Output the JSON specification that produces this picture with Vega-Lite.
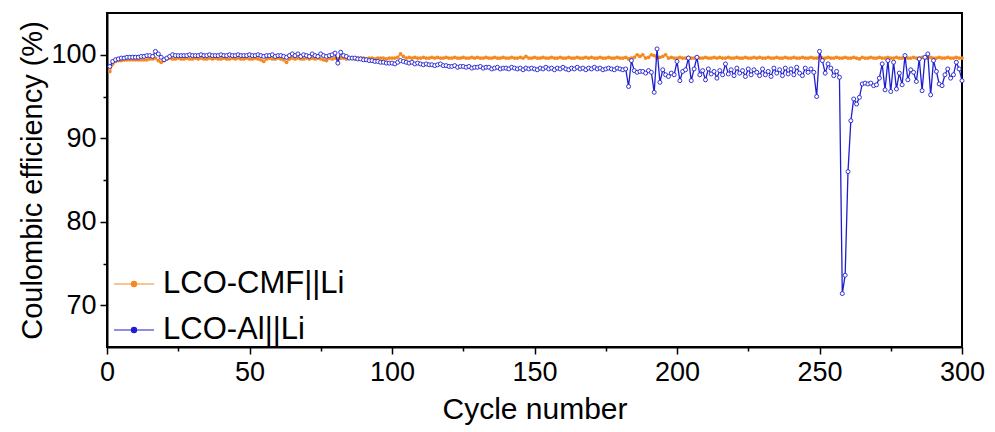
{
  "$schema": "https://vega.github.io/schema/vega-lite/v6.json",
  "width": 855,
  "height": 334,
  "autosize": {"type": "none"},
  "padding": {"left": 107, "top": 13, "right": 33, "bottom": 85},
  "background": "white",
  "config": {
    "view": {"stroke": "black", "strokeWidth": 2},
    "font": "Liberation Sans",
    "axis": {"grid": false, "domainColor": "black", "domainWidth": 2, "tickColor": "black", "tickWidth": 1.5, "labelColor": "black", "titleColor": "black", "titleFontWeight": "normal", "labelFont": "Liberation Sans", "titleFont": "Liberation Sans"}
  },
  "datasets": {
    "cmf": [
{"c":1,"v":98.0},{"c":2,"v":98.9},{"c":3,"v":99.2},{"c":4,"v":99.3},{"c":5,"v":99.3},{"c":6,"v":99.4},{"c":7,"v":99.4},{"c":8,"v":99.4},{"c":9,"v":99.4},{"c":10,"v":99.4},
{"c":11,"v":99.4},{"c":12,"v":99.4},{"c":13,"v":99.4},{"c":14,"v":99.4},{"c":15,"v":99.5},{"c":16,"v":99.5},{"c":17,"v":99.6},{"c":18,"v":99.3},{"c":19,"v":99.1},{"c":20,"v":99.3},
{"c":21,"v":99.5},{"c":22,"v":99.6},{"c":23,"v":99.5},{"c":24,"v":99.5},{"c":25,"v":99.6},{"c":26,"v":99.5},{"c":27,"v":99.5},{"c":28,"v":99.6},{"c":29,"v":99.5},{"c":30,"v":99.5},
{"c":31,"v":99.6},{"c":32,"v":99.5},{"c":33,"v":99.6},{"c":34,"v":99.5},{"c":35,"v":99.5},{"c":36,"v":99.6},{"c":37,"v":99.5},{"c":38,"v":99.6},{"c":39,"v":99.5},{"c":40,"v":99.5},
{"c":41,"v":99.6},{"c":42,"v":99.5},{"c":43,"v":99.5},{"c":44,"v":99.6},{"c":45,"v":99.5},{"c":46,"v":99.6},{"c":47,"v":99.5},{"c":48,"v":99.5},{"c":49,"v":99.6},{"c":50,"v":99.5},
{"c":51,"v":99.5},{"c":52,"v":99.6},{"c":53,"v":99.5},{"c":54,"v":99.4},{"c":55,"v":99.2},{"c":56,"v":99.5},{"c":57,"v":99.6},{"c":58,"v":99.5},{"c":59,"v":99.5},{"c":60,"v":99.6},
{"c":61,"v":99.5},{"c":62,"v":99.4},{"c":63,"v":99.1},{"c":64,"v":99.5},{"c":65,"v":99.6},{"c":66,"v":99.5},{"c":67,"v":99.6},{"c":68,"v":99.5},{"c":69,"v":99.5},{"c":70,"v":99.6},
{"c":71,"v":99.5},{"c":72,"v":99.6},{"c":73,"v":99.5},{"c":74,"v":99.6},{"c":75,"v":99.5},{"c":76,"v":99.4},{"c":77,"v":99.3},{"c":78,"v":99.6},{"c":79,"v":99.5},{"c":80,"v":99.6},
{"c":81,"v":99.5},{"c":82,"v":99.6},{"c":83,"v":99.6},{"c":84,"v":99.5},{"c":85,"v":99.6},{"c":86,"v":99.6},{"c":87,"v":99.5},{"c":88,"v":99.6},{"c":89,"v":99.6},{"c":90,"v":99.6},
{"c":91,"v":99.5},{"c":92,"v":99.6},{"c":93,"v":99.6},{"c":94,"v":99.5},{"c":95,"v":99.6},{"c":96,"v":99.6},{"c":97,"v":99.6},{"c":98,"v":99.5},{"c":99,"v":99.6},{"c":100,"v":99.6},
{"c":101,"v":99.6},{"c":102,"v":99.7},{"c":103,"v":100.1},{"c":104,"v":99.8},{"c":105,"v":99.6},{"c":106,"v":99.7},{"c":107,"v":99.6},{"c":108,"v":99.7},{"c":109,"v":99.6},{"c":110,"v":99.6},
{"c":111,"v":99.7},{"c":112,"v":99.6},{"c":113,"v":99.6},{"c":114,"v":99.7},{"c":115,"v":99.6},{"c":116,"v":99.7},{"c":117,"v":99.6},{"c":118,"v":99.6},{"c":119,"v":99.7},{"c":120,"v":99.6},
{"c":121,"v":99.6},{"c":122,"v":99.7},{"c":123,"v":99.6},{"c":124,"v":99.6},{"c":125,"v":99.7},{"c":126,"v":99.6},{"c":127,"v":99.6},{"c":128,"v":99.7},{"c":129,"v":99.6},{"c":130,"v":99.7},
{"c":131,"v":99.6},{"c":132,"v":99.6},{"c":133,"v":99.7},{"c":134,"v":99.6},{"c":135,"v":99.6},{"c":136,"v":99.7},{"c":137,"v":99.6},{"c":138,"v":99.6},{"c":139,"v":99.7},{"c":140,"v":99.6},
{"c":141,"v":99.6},{"c":142,"v":99.7},{"c":143,"v":99.6},{"c":144,"v":99.6},{"c":145,"v":99.7},{"c":146,"v":99.6},{"c":147,"v":99.8},{"c":148,"v":99.6},{"c":149,"v":99.6},{"c":150,"v":99.7},
{"c":151,"v":99.6},{"c":152,"v":99.6},{"c":153,"v":99.7},{"c":154,"v":99.6},{"c":155,"v":99.6},{"c":156,"v":99.7},{"c":157,"v":99.6},{"c":158,"v":99.6},{"c":159,"v":99.7},{"c":160,"v":99.6},
{"c":161,"v":99.6},{"c":162,"v":99.7},{"c":163,"v":99.6},{"c":164,"v":99.6},{"c":165,"v":99.7},{"c":166,"v":99.6},{"c":167,"v":99.6},{"c":168,"v":99.7},{"c":169,"v":99.6},{"c":170,"v":99.7},
{"c":171,"v":99.6},{"c":172,"v":99.6},{"c":173,"v":99.7},{"c":174,"v":99.6},{"c":175,"v":99.6},{"c":176,"v":99.7},{"c":177,"v":99.6},{"c":178,"v":99.6},{"c":179,"v":99.7},{"c":180,"v":99.6},
{"c":181,"v":99.6},{"c":182,"v":99.7},{"c":183,"v":99.5},{"c":184,"v":99.6},{"c":185,"v":99.7},{"c":186,"v":100.0},{"c":187,"v":99.8},{"c":188,"v":100.0},{"c":189,"v":99.6},{"c":190,"v":99.7},
{"c":191,"v":100.0},{"c":192,"v":99.9},{"c":193,"v":99.6},{"c":194,"v":99.7},{"c":195,"v":99.8},{"c":196,"v":100.0},{"c":197,"v":99.6},{"c":198,"v":99.7},{"c":199,"v":99.6},{"c":200,"v":99.6},
{"c":201,"v":99.7},{"c":202,"v":99.6},{"c":203,"v":99.6},{"c":204,"v":99.7},{"c":205,"v":99.6},{"c":206,"v":99.6},{"c":207,"v":99.7},{"c":208,"v":99.6},{"c":209,"v":99.6},{"c":210,"v":99.7},
{"c":211,"v":99.6},{"c":212,"v":99.6},{"c":213,"v":99.7},{"c":214,"v":99.6},{"c":215,"v":99.7},{"c":216,"v":99.6},{"c":217,"v":99.6},{"c":218,"v":99.7},{"c":219,"v":99.6},{"c":220,"v":99.6},
{"c":221,"v":99.7},{"c":222,"v":99.6},{"c":223,"v":99.6},{"c":224,"v":99.7},{"c":225,"v":99.6},{"c":226,"v":99.6},{"c":227,"v":99.7},{"c":228,"v":99.6},{"c":229,"v":99.7},{"c":230,"v":99.6},
{"c":231,"v":99.6},{"c":232,"v":99.7},{"c":233,"v":99.6},{"c":234,"v":99.6},{"c":235,"v":99.7},{"c":236,"v":99.6},{"c":237,"v":99.6},{"c":238,"v":99.7},{"c":239,"v":99.6},{"c":240,"v":99.6},
{"c":241,"v":99.7},{"c":242,"v":99.6},{"c":243,"v":99.6},{"c":244,"v":99.7},{"c":245,"v":99.6},{"c":246,"v":99.6},{"c":247,"v":99.7},{"c":248,"v":99.6},{"c":249,"v":99.6},{"c":250,"v":99.7},
{"c":251,"v":99.6},{"c":252,"v":99.6},{"c":253,"v":99.7},{"c":254,"v":99.6},{"c":255,"v":99.6},{"c":256,"v":99.7},{"c":257,"v":99.6},{"c":258,"v":99.6},{"c":259,"v":99.7},{"c":260,"v":99.6},
{"c":261,"v":99.6},{"c":262,"v":99.7},{"c":263,"v":99.6},{"c":264,"v":99.5},{"c":265,"v":99.7},{"c":266,"v":99.6},{"c":267,"v":99.6},{"c":268,"v":99.7},{"c":269,"v":99.6},{"c":270,"v":99.6},
{"c":271,"v":99.7},{"c":272,"v":99.6},{"c":273,"v":99.6},{"c":274,"v":99.7},{"c":275,"v":99.6},{"c":276,"v":99.6},{"c":277,"v":99.7},{"c":278,"v":99.6},{"c":279,"v":99.6},{"c":280,"v":99.7},
{"c":281,"v":99.6},{"c":282,"v":99.6},{"c":283,"v":99.7},{"c":284,"v":99.6},{"c":285,"v":99.6},{"c":286,"v":99.7},{"c":287,"v":99.6},{"c":288,"v":99.6},{"c":289,"v":99.7},{"c":290,"v":99.6},
{"c":291,"v":99.6},{"c":292,"v":99.7},{"c":293,"v":99.6},{"c":294,"v":99.6},{"c":295,"v":99.7},{"c":296,"v":99.6},{"c":297,"v":99.6},{"c":298,"v":99.7},{"c":299,"v":99.6},{"c":300,"v":99.6}
    ],
    "al": [
{"c":1,"v":98.6},{"c":2,"v":99.2},{"c":3,"v":99.4},{"c":4,"v":99.5},{"c":5,"v":99.6},{"c":6,"v":99.6},{"c":7,"v":99.7},{"c":8,"v":99.7},{"c":9,"v":99.7},{"c":10,"v":99.7},
{"c":11,"v":99.7},{"c":12,"v":99.8},{"c":13,"v":99.8},{"c":14,"v":99.9},{"c":15,"v":99.9},{"c":16,"v":99.8},{"c":17,"v":100.4},{"c":18,"v":100.1},{"c":19,"v":99.7},{"c":20,"v":99.4},
{"c":21,"v":99.6},{"c":22,"v":99.8},{"c":23,"v":100.0},{"c":24,"v":99.9},{"c":25,"v":99.9},{"c":26,"v":99.9},{"c":27,"v":99.9},{"c":28,"v":99.9},{"c":29,"v":100.0},{"c":30,"v":99.9},
{"c":31,"v":99.9},{"c":32,"v":99.9},{"c":33,"v":100.0},{"c":34,"v":99.9},{"c":35,"v":99.9},{"c":36,"v":100.0},{"c":37,"v":99.9},{"c":38,"v":99.9},{"c":39,"v":99.9},{"c":40,"v":100.0},
{"c":41,"v":99.9},{"c":42,"v":99.9},{"c":43,"v":100.0},{"c":44,"v":99.9},{"c":45,"v":99.9},{"c":46,"v":100.0},{"c":47,"v":99.9},{"c":48,"v":99.9},{"c":49,"v":99.9},{"c":50,"v":100.0},
{"c":51,"v":99.9},{"c":52,"v":99.9},{"c":53,"v":100.0},{"c":54,"v":99.9},{"c":55,"v":99.8},{"c":56,"v":99.9},{"c":57,"v":99.9},{"c":58,"v":100.0},{"c":59,"v":99.8},{"c":60,"v":99.9},
{"c":61,"v":99.9},{"c":62,"v":99.8},{"c":63,"v":99.7},{"c":64,"v":99.9},{"c":65,"v":100.1},{"c":66,"v":99.9},{"c":67,"v":100.1},{"c":68,"v":99.8},{"c":69,"v":100.0},{"c":70,"v":99.9},
{"c":71,"v":99.8},{"c":72,"v":100.1},{"c":73,"v":99.9},{"c":74,"v":99.8},{"c":75,"v":100.1},{"c":76,"v":99.9},{"c":77,"v":99.8},{"c":78,"v":99.9},{"c":79,"v":100.0},{"c":80,"v":100.2},
{"c":81,"v":99.0},{"c":82,"v":100.3},{"c":83,"v":99.9},{"c":84,"v":99.8},{"c":85,"v":99.6},{"c":86,"v":99.6},{"c":87,"v":99.6},{"c":88,"v":99.5},{"c":89,"v":99.5},{"c":90,"v":99.4},
{"c":91,"v":99.4},{"c":92,"v":99.3},{"c":93,"v":99.3},{"c":94,"v":99.2},{"c":95,"v":99.2},{"c":96,"v":99.1},{"c":97,"v":99.1},{"c":98,"v":99.0},{"c":99,"v":99.0},{"c":100,"v":99.0},
{"c":101,"v":98.9},{"c":102,"v":99.1},{"c":103,"v":99.3},{"c":104,"v":99.2},{"c":105,"v":99.1},{"c":106,"v":99.0},{"c":107,"v":99.1},{"c":108,"v":98.9},{"c":109,"v":99.0},{"c":110,"v":98.9},
{"c":111,"v":98.8},{"c":112,"v":98.9},{"c":113,"v":98.8},{"c":114,"v":98.8},{"c":115,"v":98.7},{"c":116,"v":98.8},{"c":117,"v":98.9},{"c":118,"v":98.7},{"c":119,"v":98.7},{"c":120,"v":98.6},
{"c":121,"v":98.6},{"c":122,"v":98.7},{"c":123,"v":98.5},{"c":124,"v":98.6},{"c":125,"v":98.6},{"c":126,"v":98.5},{"c":127,"v":98.6},{"c":128,"v":98.4},{"c":129,"v":98.5},{"c":130,"v":98.5},
{"c":131,"v":98.6},{"c":132,"v":98.4},{"c":133,"v":98.5},{"c":134,"v":98.5},{"c":135,"v":98.3},{"c":136,"v":98.4},{"c":137,"v":98.5},{"c":138,"v":98.3},{"c":139,"v":98.4},{"c":140,"v":98.4},
{"c":141,"v":98.3},{"c":142,"v":98.5},{"c":143,"v":98.4},{"c":144,"v":98.3},{"c":145,"v":98.4},{"c":146,"v":98.2},{"c":147,"v":98.4},{"c":148,"v":98.3},{"c":149,"v":98.4},{"c":150,"v":98.3},
{"c":151,"v":98.2},{"c":152,"v":98.4},{"c":153,"v":98.3},{"c":154,"v":98.5},{"c":155,"v":98.3},{"c":156,"v":98.4},{"c":157,"v":98.2},{"c":158,"v":98.4},{"c":159,"v":98.3},{"c":160,"v":98.5},
{"c":161,"v":98.3},{"c":162,"v":98.2},{"c":163,"v":98.4},{"c":164,"v":98.3},{"c":165,"v":98.5},{"c":166,"v":98.3},{"c":167,"v":98.4},{"c":168,"v":98.2},{"c":169,"v":98.4},{"c":170,"v":98.3},
{"c":171,"v":98.5},{"c":172,"v":98.3},{"c":173,"v":98.4},{"c":174,"v":98.2},{"c":175,"v":98.3},{"c":176,"v":98.4},{"c":177,"v":98.3},{"c":178,"v":98.2},{"c":179,"v":98.4},{"c":180,"v":98.3},
{"c":181,"v":98.2},{"c":182,"v":98.3},{"c":183,"v":96.2},{"c":184,"v":99.3},{"c":185,"v":98.1},{"c":186,"v":97.9},{"c":187,"v":98.0},{"c":188,"v":98.0},{"c":189,"v":97.8},{"c":190,"v":98.1},
{"c":191,"v":97.9},{"c":192,"v":95.5},{"c":193,"v":100.7},{"c":194,"v":96.7},{"c":195,"v":98.2},{"c":196,"v":97.6},{"c":197,"v":97.4},{"c":198,"v":97.8},{"c":199,"v":97.6},{"c":200,"v":99.2},
{"c":201,"v":96.9},{"c":202,"v":98.0},{"c":203,"v":98.2},{"c":204,"v":99.6},{"c":205,"v":96.9},{"c":206,"v":98.3},{"c":207,"v":99.7},{"c":208,"v":97.6},{"c":209,"v":98.1},{"c":210,"v":97.0},
{"c":211,"v":98.3},{"c":212,"v":97.7},{"c":213,"v":98.0},{"c":214,"v":97.2},{"c":215,"v":98.1},{"c":216,"v":97.6},{"c":217,"v":98.9},{"c":218,"v":97.7},{"c":219,"v":98.2},{"c":220,"v":97.5},
{"c":221,"v":98.4},{"c":222,"v":97.8},{"c":223,"v":98.1},{"c":224,"v":97.4},{"c":225,"v":98.3},{"c":226,"v":97.6},{"c":227,"v":98.2},{"c":228,"v":97.9},{"c":229,"v":97.5},{"c":230,"v":98.3},
{"c":231,"v":97.6},{"c":232,"v":98.0},{"c":233,"v":97.4},{"c":234,"v":98.4},{"c":235,"v":97.8},{"c":236,"v":98.2},{"c":237,"v":97.5},{"c":238,"v":98.4},{"c":239,"v":97.7},{"c":240,"v":98.3},
{"c":241,"v":97.6},{"c":242,"v":98.5},{"c":243,"v":97.8},{"c":244,"v":97.5},{"c":245,"v":98.4},{"c":246,"v":97.9},{"c":247,"v":98.3},{"c":248,"v":97.9},{"c":249,"v":95.0},{"c":250,"v":100.4},
{"c":251,"v":99.3},{"c":252,"v":97.8},{"c":253,"v":98.9},{"c":254,"v":98.4},{"c":255,"v":97.5},{"c":256,"v":98.0},{"c":257,"v":97.3},{"c":258,"v":71.4},{"c":259,"v":73.6},{"c":260,"v":86.0},
{"c":261,"v":92.1},{"c":262,"v":94.7},{"c":263,"v":94.1},{"c":264,"v":94.9},{"c":265,"v":96.5},{"c":266,"v":96.6},{"c":267,"v":96.5},{"c":268,"v":96.6},{"c":269,"v":96.3},{"c":270,"v":96.4},
{"c":271,"v":97.2},{"c":272,"v":98.9},{"c":273,"v":95.8},{"c":274,"v":99.3},{"c":275,"v":95.6},{"c":276,"v":99.1},{"c":277,"v":95.9},{"c":278,"v":97.8},{"c":279,"v":96.4},{"c":280,"v":99.9},
{"c":281,"v":97.0},{"c":282,"v":98.2},{"c":283,"v":97.9},{"c":284,"v":96.8},{"c":285,"v":99.5},{"c":286,"v":95.7},{"c":287,"v":99.7},{"c":288,"v":100.1},{"c":289,"v":95.2},{"c":290,"v":99.3},
{"c":291,"v":98.0},{"c":292,"v":96.5},{"c":293,"v":96.3},{"c":294,"v":97.6},{"c":295,"v":98.3},{"c":296,"v":97.2},{"c":297,"v":97.6},{"c":298,"v":99.1},{"c":299,"v":98.3},{"c":300,"v":96.9}
    ]
  },
  "encoding": {
    "x": {
      "field": "c", "type": "quantitative",
      "scale": {"domain": [0, 300], "nice": false, "zero": false},
      "axis": {
        "title": "Cycle number", "titleFontSize": 30, "titlePadding": 9,
        "values": [0,25,50,75,100,125,150,175,200,225,250,275,300],
        "labelExpr": "datum.value % 50 === 0 ? datum.label : ''",
        "labelFontSize": 27, "labelPadding": 5, "labelFlush": false,
        "tickSize": {"condition": {"test": "datum.value % 50 === 0", "value": 7}, "value": 4}
      }
    },
    "y": {
      "field": "v", "type": "quantitative",
      "scale": {"domain": [65, 105], "nice": false, "zero": false},
      "axis": {
        "title": "Coulombic efficiency (%)", "titleFontSize": 29, "titlePadding": 3,
        "values": [70,75,80,85,90,95,100],
        "labelExpr": "datum.value % 10 === 0 ? datum.label : ''",
        "labelFontSize": 27, "labelPadding": 4, "labelFlush": false,
        "tickSize": {"condition": {"test": "datum.value % 10 === 0", "value": 7}, "value": 4}
      }
    },
    "color": {
      "type": "nominal",
      "scale": {"domain": ["LCO-CMF||Li", "LCO-Al||Li"], "range": ["#F5891F", "#1E1ECF"]},
      "legend": {
        "title": null, "orient": "none", "legendX": 6, "legendY": 250,
        "labelFontSize": 31, "labelColor": "black", "labelFont": "Liberation Sans", "labelOffset": 8, "labelLimit": 0,
        "rowPadding": 10,
        "symbolType": "M-1,0L1,0M-0.13,0A0.13,0.13 0 1,1 0.13,0A0.13,0.13 0 1,1 -0.13,0",
        "symbolSize": 1600, "symbolStrokeWidth": 1.2,
        "encode": {"symbols": {"update": {
          "fill": {"signal": "datum.value === 'LCO-CMF||Li' ? '#F5891F' : '#ffffff'"},
          "stroke": {"scale": "color", "field": "value"},
          "opacity": {"value": 1}
        }}}
      }
    }
  },
  "layer": [
    {"data": {"name": "cmf"}, "mark": {"type": "line", "strokeWidth": 1.4}, "encoding": {"color": {"datum": "LCO-CMF||Li"}}},
    {"data": {"name": "cmf"}, "mark": {"type": "point", "filled": true, "size": 14, "opacity": 1, "shape": "circle"}, "encoding": {"color": {"datum": "LCO-CMF||Li"}}},
    {"data": {"name": "al"}, "mark": {"type": "line", "strokeWidth": 1.3}, "encoding": {"color": {"datum": "LCO-Al||Li"}}},
    {"data": {"name": "al"}, "mark": {"type": "point", "filled": false, "fill": "white", "fillOpacity": 1, "size": 16, "strokeWidth": 0.9, "opacity": 1, "shape": "circle"}, "encoding": {"color": {"datum": "LCO-Al||Li"}}}
  ]
}
